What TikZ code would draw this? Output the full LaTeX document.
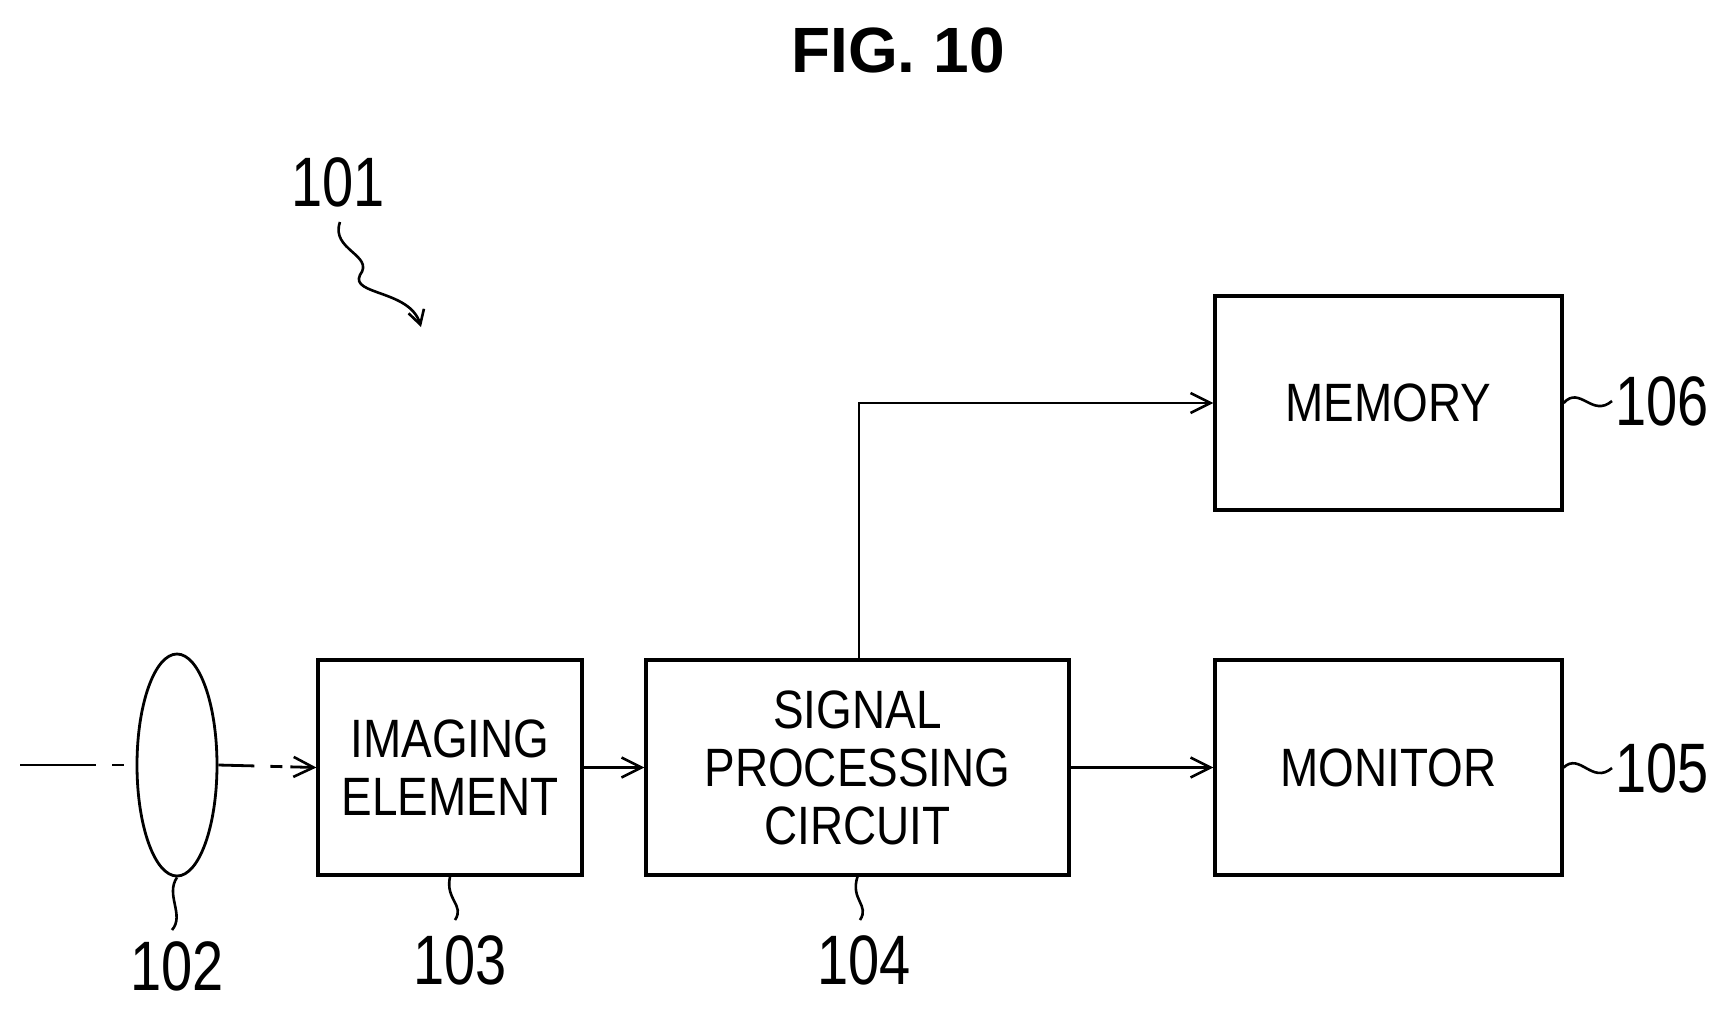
\documentclass[tikz,border=0pt]{standalone}
\usepackage{fontspec}
\setmainfont{Liberation Sans}
\usetikzlibrary{arrows.meta,shapes.geometric}
\begin{document}
\begin{tikzpicture}[x=0.5pt,y=-0.5pt,line width=1.4pt,
  box/.style={draw,line width=1.6pt,inner sep=0pt,align=center,font=\fontsize{27}{31}\selectfont},
  lbl/.style={font=\fontsize{35}{40}\selectfont},
  arr/.style={-{Straight Barb[length=10pt,width=10pt,line width=1.3pt]}},
  lead/.style={line width=1.3pt}]
\useasboundingbox (0,0) rectangle (1729,1008);
\node[font=\bfseries\fontsize{32}{36}\selectfont] (title) at (898,50) {FIG. 10};
\node[box,minimum width=132pt,minimum height=107.5pt] (b103) at (450,767.5) {\scalebox{0.85}[1]{IMAGING}\\[-2pt]\scalebox{0.85}[1]{ELEMENT}};
\node[box,minimum width=211.5pt,minimum height=107.5pt] (b104) at (857.5,767.5) {\scalebox{0.85}[1]{SIGNAL}\\[-2pt]\scalebox{0.85}[1]{PROCESSING}\\[-2pt]\scalebox{0.85}[1]{CIRCUIT}};
\node[box,minimum width=173.5pt,minimum height=107pt] (b106) at (1388.5,403) {\scalebox{0.85}[1]{MEMORY}};
\node[box,minimum width=173.5pt,minimum height=107.5pt] (b105) at (1388.5,767.5) {\scalebox{0.85}[1]{MONITOR}};
\node[draw,ellipse,line width=1.4pt,minimum width=40pt,minimum height=111pt,inner sep=0pt] (lens) at (177,765) {};
\coordinate (axs) at (20,765);
\draw[dash pattern=on 38pt off 8pt on 6pt off 8pt] (axs) -- (lens.west);
\draw[arr,dash pattern=on 18pt off 8pt on 6pt off 4pt] (lens.east) -- (b103.west);
\draw[arr] (b103.east) -- (b104.west);
\draw[arr] (b104.east) -- (b105.west);
\coordinate (br) at (859,660);
\draw[arr] (br) |- (b106.west);
% labels
\node[lbl] (l101) at (338,182) {\scalebox{0.8}[1]{101}};
\node[lbl] (l102) at (177,966) {\scalebox{0.8}[1]{102}};
\node[lbl] (l103) at (460,960) {\scalebox{0.8}[1]{103}};
\node[lbl] (l104) at (864,960) {\scalebox{0.8}[1]{104}};
\node[lbl,anchor=west,inner sep=1pt] (l106) at (1612,401) {\scalebox{0.8}[1]{106}};
\node[lbl,anchor=west,inner sep=1pt] (l105) at (1612,768) {\scalebox{0.8}[1]{105}};
% leaders
\draw[lead] (lens.south) .. controls (165,895) and (185,915) .. (172,930);
\draw[lead] (b103.south) .. controls (445,900) and (465,905) .. (455,920);
\draw[lead] (b104.south) .. controls (850,900) and (870,905) .. (860,920);
\draw[lead] (b106.east) .. controls (1580,385) and (1592,418) .. (l106.west);
\draw[lead] (b105.east) .. controls (1580,752) and (1592,785) .. (l105.west);
\draw[lead,-{Straight Barb[length=7pt,width=8pt,line width=1.3pt]}] (340,222) .. controls (330,250) and (375,255) .. (360,275) .. controls (350,295) and (410,290) .. (421,327);
\end{tikzpicture}
\end{document}
